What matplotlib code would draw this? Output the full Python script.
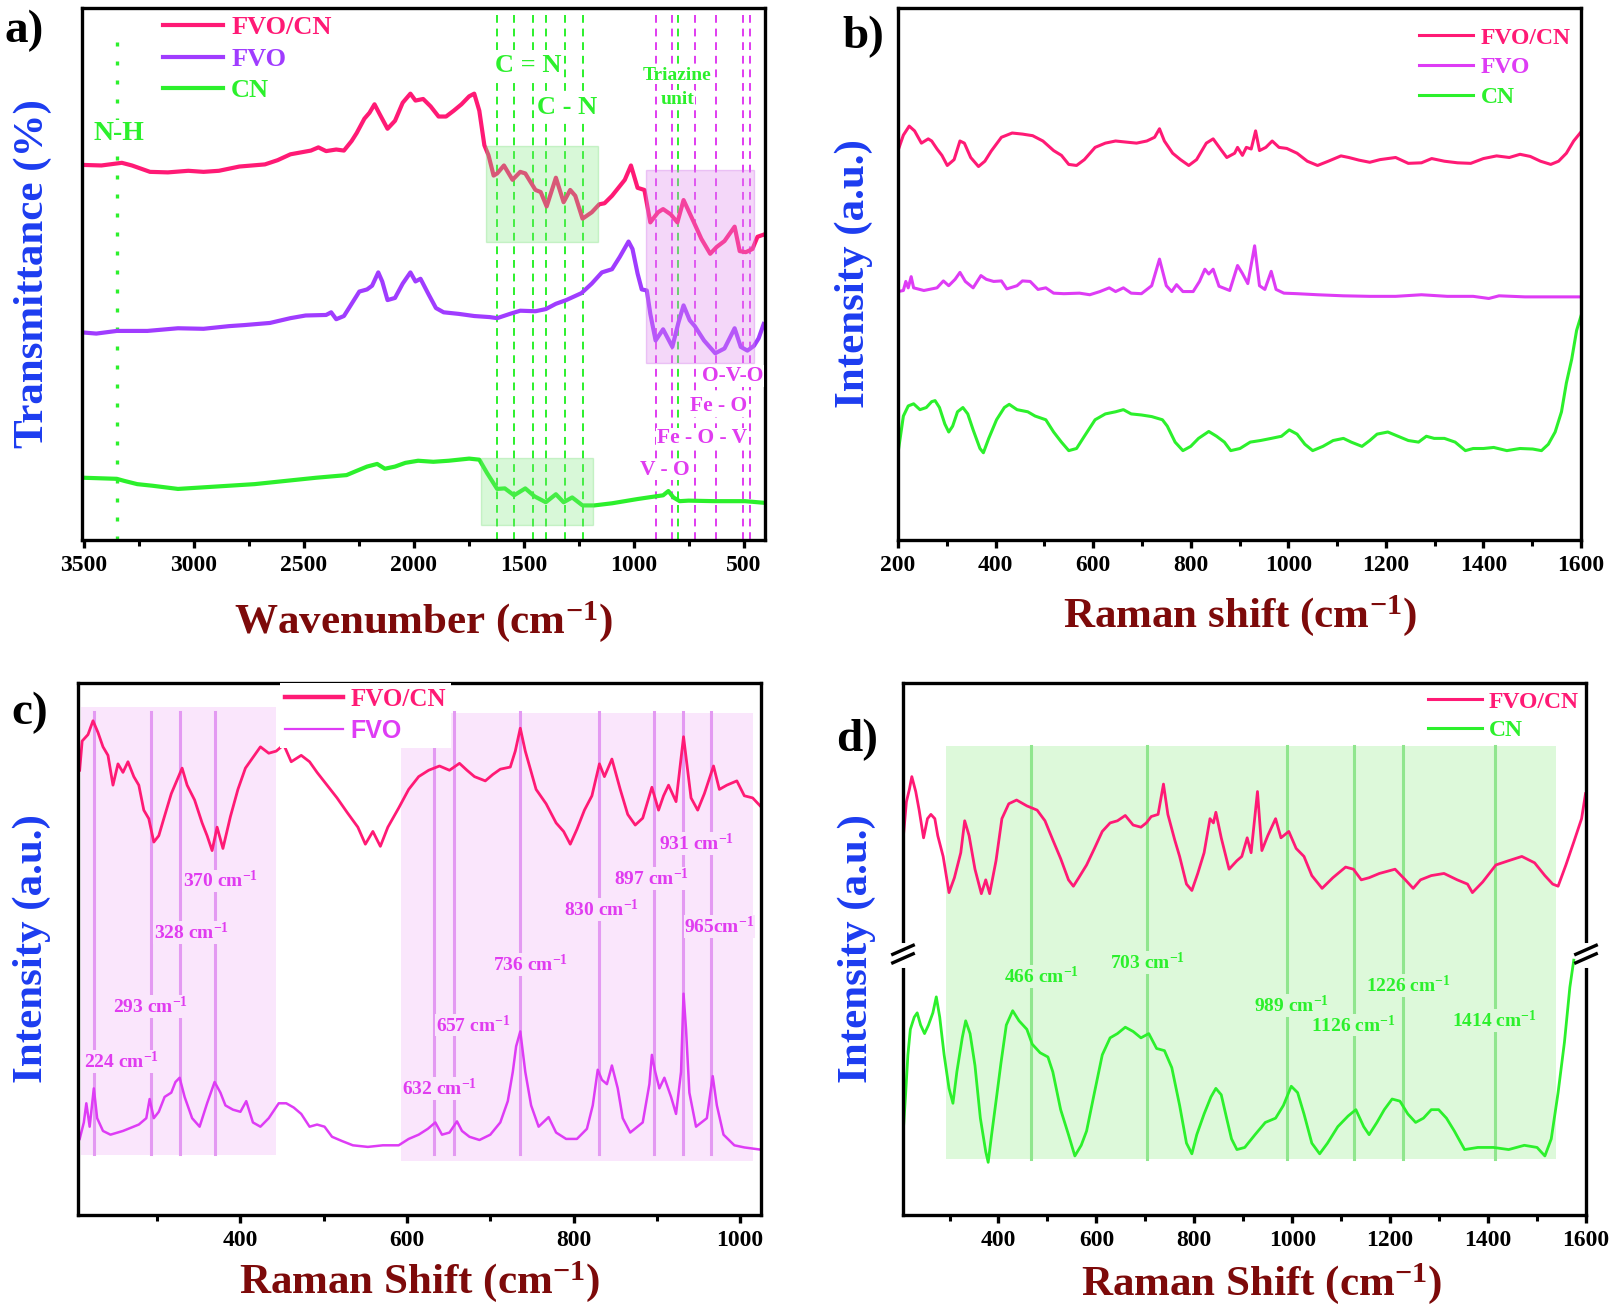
import matplotlib
matplotlib.use("Agg")
import matplotlib.pyplot as plt
from matplotlib.lines import Line2D
from matplotlib.patches import Rectangle
from matplotlib.ticker import MultipleLocator

plt.rcParams["font.family"] = ["Liberation Serif", "DejaVu Serif"]
plt.rcParams["font.weight"] = "bold"
plt.rcParams["mathtext.fontset"] = "custom"
plt.rcParams["mathtext.rm"] = "Liberation Serif:bold"
plt.rcParams["mathtext.it"] = "Liberation Serif:bold"
plt.rcParams["mathtext.bf"] = "Liberation Serif:bold"
plt.rcParams["mathtext.default"] = "rm"
plt.rcParams["axes.linewidth"] = 2.4

# ======= colours ==================================================
C_FVOCN = "#ff1a75"
C_FVO_A = "#a03cff"
C_FVO = "#de3cf5"
C_CN = "#2cf02c"
C_XLAB = "#7d0a0a"
C_YLAB = "#1c3cf0"
C_ANNO = "#e03cf0"

# ======= a) FTIR ==================================================
ftir_fvocn_x = [3500, 3419, 3326, 3280, 3198, 3117, 3024, 2955, 2885, 2792, 2676, 2618, 2560, 2467,
                2433, 2398, 2352, 2317, 2282, 2259, 2224, 2201, 2178, 2154, 2119, 2085, 2050, 2015,
                1992, 1957, 1923, 1887, 1853, 1818, 1783, 1748, 1725, 1702, 1679, 1660, 1637, 1621,
                1590, 1551, 1516, 1493, 1447, 1423, 1396, 1354, 1319, 1289, 1266, 1233, 1191, 1157,
                1133, 1099, 1041, 1013, 983, 952, 925, 890, 867, 832, 802, 774, 727, 693, 653, 623,
                588, 542, 519, 491, 461, 438, 410]
ftir_fvocn_y = [70.5, 70.4, 70.9, 70.4, 69.2, 69.1, 69.4, 69.2, 69.4, 70.2, 70.6, 71.4, 72.5, 73.2,
                73.8, 73.1, 73.4, 73.2, 75.0, 76.5, 79.2, 80.3, 81.9, 80.0, 77.3, 78.8, 82.2, 83.9,
                82.6, 82.9, 81.5, 79.6, 79.6, 80.7, 81.9, 83.4, 83.9, 80.7, 74.2, 72.3, 68.5, 68.9,
                70.4, 67.7, 69.2, 68.9, 65.8, 65.4, 62.7, 68.1, 63.5, 65.8, 64.7, 60.4, 61.6, 63.1,
                63.3, 64.7, 67.7, 70.4, 66.2, 65.8, 59.7, 61.6, 62.2, 61.2, 59.7, 63.9, 59.7, 56.6,
                53.8, 55.1, 56.2, 58.9, 54.3, 54.1, 54.7, 57.0, 57.4]

ftir_fvo_x = [3500, 3442, 3349, 3210, 3071, 2955, 2839, 2769, 2653, 2560, 2491, 2398, 2375, 2352,
              2317, 2282, 2247, 2212, 2189, 2161, 2143, 2119, 2085, 2050, 2015, 1992, 1969, 1934,
              1899, 1864, 1795, 1725, 1655, 1621, 1563, 1516, 1447, 1400, 1354, 1307, 1238, 1191,
              1145, 1099, 1064, 1024, 1006, 983, 964, 941, 925, 901, 867, 825, 797, 774, 746, 723,
              681, 630, 588, 542, 514, 484, 454, 433, 410]
ftir_fvo_y = [39.0, 38.8, 39.3, 39.3, 39.8, 39.7, 40.2, 40.4, 40.8, 41.7, 42.2, 42.3, 42.8, 41.5,
              42.1, 44.4, 46.7, 47.1, 47.8, 50.3, 48.6, 45.1, 45.5, 48.2, 50.3, 48.6, 49.1, 46.3,
              43.6, 42.8, 42.5, 42.1, 41.9, 41.7, 42.5, 43.1, 43.0, 43.4, 44.4, 45.1, 46.4, 48.2,
              50.3, 50.9, 53.2, 56.1, 54.7, 50.1, 47.1, 46.9, 42.5, 37.5, 39.6, 36.3, 40.9, 44.1,
              41.3, 40.2, 37.5, 35.1, 36.0, 39.8, 36.3, 35.6, 36.5, 37.9, 40.6]

ftir_cn_x = [3500, 3349, 3314, 3256, 3187, 3071, 2955, 2723, 2584, 2444, 2305, 2259, 2212, 2166,
             2131, 2085, 2038, 1980, 1911, 1841, 1748, 1702, 1667, 1621, 1586, 1544, 1493, 1451,
             1400, 1354, 1319, 1280, 1233, 1180, 1099, 983, 901, 867, 843, 820, 792, 751, 635, 495,
             410]
ftir_cn_y = [11.7, 11.5, 11.1, 10.5, 10.2, 9.6, 9.9, 10.5, 11.1, 11.7, 12.2, 13.0, 13.8, 14.3,
             13.4, 13.8, 14.5, 14.9, 14.7, 14.9, 15.3, 15.1, 12.6, 9.6, 9.7, 8.4, 9.7, 8.2,
             7.1, 8.6, 7.1, 8.0, 6.5, 6.5, 6.9, 7.7, 8.2, 8.4, 9.2, 8.0, 7.3, 7.4, 7.3, 7.3, 7.0]

ftir_nh_line = 3349
ftir_cn_lines = [1621, 1545, 1458, 1397, 1314, 1233]
ftir_triazine_line = 797
ftir_metal_lines = [901, 826, 722, 627, 505, 471]

# ======= b) Raman full range =====================================
rb_fvocn_x = [200, 211, 223, 234, 248, 262, 269, 280, 290, 301, 315, 327, 336, 349, 365, 378, 391,
              412, 434, 455, 476, 497, 519, 535, 550, 566, 582, 604, 625, 646, 667, 689, 710, 726,
              736, 746, 763, 779, 796, 812, 832, 846, 861, 874, 890, 896, 906, 914, 924, 933, 941,
              954, 967, 981, 997, 1018, 1039, 1060, 1082, 1108, 1124, 1145, 1167, 1188, 1220, 1246,
              1273, 1294, 1320, 1347, 1374, 1400, 1427, 1453, 1475, 1496, 1517, 1538, 1554, 1570,
              1585, 1600]
rb_fvocn_y = [73.2, 76.1, 77.8, 76.9, 74.6, 75.4, 75.0, 73.5, 72.3, 70.4, 71.5, 75.0, 74.6, 71.9,
              70.2, 71.2, 73.1, 75.7, 76.5, 76.3, 76.0, 75.0, 73.2, 72.3, 70.6, 70.4, 71.5, 73.8,
              74.6, 75.0, 74.8, 74.6, 75.0, 75.7, 77.3, 75.0, 72.7, 71.5, 70.4, 71.5, 74.6, 75.4,
              73.5, 71.9, 72.7, 73.8, 72.3, 73.8, 73.5, 76.9, 73.2, 73.8, 75.0, 73.8, 73.6, 72.7,
              71.2, 70.4, 71.2, 72.2, 71.9, 71.4, 71.0, 71.5, 71.9, 70.8, 70.9, 71.7, 71.2, 70.9,
              70.8, 71.7, 72.2, 71.9, 72.5, 72.1, 71.2, 70.6, 71.2, 72.7, 75.0, 76.7]

rb_fvo_x = [200, 211, 216, 221, 227, 232, 253, 280, 293, 304, 317, 327, 338, 354, 370, 381, 396,
            412, 423, 444, 455, 471, 487, 503, 519, 540, 572, 593, 614, 633, 646, 662, 678, 699,
            720, 736, 750, 761, 771, 784, 805, 818, 829, 837, 846, 858, 880, 896, 906, 917, 931,
            941, 952, 965, 975, 991, 1018, 1060, 1113, 1167, 1220, 1273, 1326, 1379, 1411, 1432,
            1485, 1538, 1600]
rb_fvo_y = [46.7, 46.9, 48.6, 47.4, 49.5, 47.4, 46.9, 47.4, 48.7, 47.8, 49.0, 50.3, 48.6, 47.4,
            49.7, 49.0, 48.6, 48.7, 47.2, 47.8, 48.7, 48.6, 47.1, 47.4, 46.4, 46.3, 46.4, 46.1,
            46.7, 47.4, 46.7, 47.4, 46.4, 46.3, 47.8, 52.8, 47.8, 46.7, 48.0, 46.7, 46.7, 48.6,
            50.9, 50.0, 50.9, 47.7, 46.9, 51.6, 50.1, 48.2, 55.3, 47.8, 47.1, 50.5, 47.1, 46.4,
            46.3, 46.1, 45.9, 45.8, 45.8, 46.1, 45.8, 45.8, 45.4, 45.9, 45.7, 45.7, 45.7]

rb_cn_x = [200, 205, 211, 221, 232, 245, 258, 269, 276, 285, 296, 304, 312, 322, 333, 343, 354,
           368, 375, 386, 402, 418, 428, 444, 466, 481, 503, 519, 535, 550, 566, 582, 604, 625,
           646, 662, 678, 699, 720, 742, 752, 768, 784, 800, 816, 837, 853, 869, 882, 901, 922,
           943, 965, 986, 1002, 1018, 1034, 1050, 1071, 1092, 1113, 1129, 1151, 1167, 1182, 1204,
           1225, 1246, 1267, 1283, 1299, 1320, 1342, 1363, 1379, 1400, 1421, 1448, 1475, 1501,
           1519, 1533, 1547, 1560, 1570, 1581, 1591, 1600]
rb_cn_y = [16.4, 19.5, 23.3, 25.2, 25.6, 24.5, 24.9, 26.0, 26.2, 24.9, 21.8, 20.3, 21.4, 24.1,
           24.9, 23.7, 20.7, 17.2, 16.4, 19.1, 22.6, 24.9, 25.5, 24.5, 24.1, 23.3, 22.6, 20.3,
           18.4, 16.8, 17.2, 19.5, 22.6, 23.7, 24.1, 24.5, 23.7, 23.5, 23.2, 22.6, 21.4, 18.4,
           16.8, 17.6, 19.1, 20.4, 19.5, 18.4, 16.8, 17.2, 18.4, 18.7, 19.1, 19.5, 20.7, 19.9,
           18.0, 16.8, 17.6, 18.7, 19.1, 18.4, 17.6, 18.7, 19.9, 20.3, 19.5, 18.7, 18.4, 19.5,
           19.1, 19.1, 18.4, 16.8, 17.2, 17.2, 17.4, 16.8, 17.2, 17.1, 16.8, 18.0, 20.3, 24.1,
           29.5, 34.0, 39.4, 42.1]

# ======= c) Raman, FVO bands ======================================
rc_fvocn_x = [207, 210, 217, 223, 229, 235, 241, 247, 253, 259, 265, 272, 278, 284, 290, 296, 302,
              308, 317, 330, 336, 345, 354, 360, 366, 372, 379, 388, 397, 406, 415, 424, 434, 443,
              452, 461, 473, 483, 492, 504, 516, 528, 541, 550, 559, 568, 577, 590, 602, 614, 626,
              639, 651, 663, 672, 681, 694, 703, 712, 724, 730, 736, 742, 755, 767, 779, 788, 796,
              804, 813, 822, 831, 837, 846, 856, 865, 874, 883, 894, 902, 908, 914, 923, 932, 941,
              949, 957, 968, 975, 984, 996, 1005, 1015, 1024]
rc_fvocn_y = [83.6, 89.1, 90.3, 92.9, 90.7, 88.0, 86.4, 80.8, 84.8, 83.2, 85.2, 82.4, 80.8, 76.1,
              74.5, 70.1, 71.3, 74.5, 79.2, 84.0, 80.8, 78.0, 73.7, 71.3, 68.5, 72.9, 68.9, 74.9,
              80.0, 84.0, 86.0, 88.0, 86.8, 87.2, 88.4, 85.2, 86.4, 85.2, 83.2, 80.8, 78.4, 75.7,
              72.9, 69.7, 72.1, 69.3, 72.9, 76.5, 80.0, 82.4, 83.6, 84.4, 83.6, 84.9, 83.6, 82.4,
              81.6, 82.8, 83.8, 84.2, 87.2, 91.5, 87.2, 80.0, 77.3, 73.7, 72.1, 69.7, 72.5, 76.1,
              78.8, 84.8, 82.4, 85.7, 80.0, 75.3, 73.3, 74.6, 80.4, 76.1, 78.8, 80.8, 77.7, 89.9,
              78.4, 76.1, 79.2, 84.4, 80.0, 80.8, 81.6, 78.8, 78.4, 76.9]

rc_fvo_x = [207, 212, 215, 219, 224, 228, 235, 244, 259, 278, 287, 291, 296, 302, 309, 317, 322,
            327, 333, 342, 351, 360, 369, 376, 382, 391, 400, 407, 415, 424, 434, 446, 455, 464,
            473, 483, 492, 501, 510, 522, 535, 553, 571, 590, 602, 614, 625, 634, 642, 651, 660,
            666, 675, 687, 700, 712, 721, 727, 731, 736, 742, 749, 758, 770, 779, 791, 804, 816,
            823, 829, 834, 840, 846, 853, 859, 868, 883, 891, 894, 898, 903, 909, 917, 923, 929,
            932, 935, 939, 947, 960, 967, 972, 980, 993, 1005, 1024]
rc_fvo_y = [14.3, 17.4, 21.0, 16.6, 23.8, 18.2, 15.8, 15.1, 15.8, 17.0, 18.2, 21.8, 18.2, 19.4,
            22.2, 23.0, 25.0, 25.8, 22.2, 18.2, 16.6, 21.0, 25.0, 23.0, 20.6, 19.8, 19.4, 21.4,
            17.4, 16.6, 18.2, 21.0, 21.0, 20.2, 19.0, 16.6, 17.0, 16.6, 14.7, 13.9, 13.1, 12.8,
            13.1, 13.1, 14.3, 15.1, 16.2, 17.4, 15.1, 15.5, 17.6, 15.8, 14.7, 14.1, 15.1, 17.4,
            21.4, 26.9, 31.7, 34.5, 26.9, 20.6, 16.6, 18.4, 15.5, 14.3, 14.3, 16.2, 20.6, 27.3,
            25.4, 24.6, 28.1, 23.8, 18.2, 15.5, 17.4, 24.6, 30.1, 26.9, 23.8, 25.8, 22.2, 19.0,
            26.9, 41.6, 34.9, 23.0, 16.6, 18.2, 26.1, 20.6, 15.1, 13.1, 12.7, 12.3]

fvo_bands = [224, 293, 328, 370, 632, 657, 736, 830, 897, 931, 965]
fvo_band_labels = ["224 cm$^{-1}$", "293 cm$^{-1}$", "328 cm$^{-1}$", "370 cm$^{-1}$",
                   "632 cm$^{-1}$", "657 cm$^{-1}$", "736 cm$^{-1}$", "830 cm$^{-1}$",
                   "897 cm$^{-1}$", "931 cm$^{-1}$", "965cm$^{-1}$"]

# ======= d) Raman, CN bands =======================================
rd_fvocn_x = [204, 212, 218, 223, 231, 238, 247, 255, 262, 270, 276, 287, 299, 310, 323, 331, 340,
              352, 365, 374, 382, 395, 407, 421, 437, 458, 479, 495, 511, 527, 543, 553, 564, 580,
              596, 612, 628, 643, 659, 675, 691, 702, 712, 726, 737, 746, 760, 770, 784, 795, 807,
              820, 832, 839, 844, 855, 871, 887, 897, 908, 916, 929, 938, 950, 966, 977, 993, 1008,
              1024, 1040, 1061, 1083, 1109, 1125, 1141, 1157, 1178, 1210, 1231, 1247, 1262, 1284,
              1310, 1337, 1358, 1368, 1389, 1416, 1442, 1469, 1495, 1516, 1532, 1543, 1559, 1575,
              1591, 1599]
rd_fvocn_y = [69.3, 77.7, 80.0, 82.4, 79.6, 76.1, 70.9, 74.5, 75.3, 74.5, 71.3, 67.4, 60.6, 63.4,
              68.1, 74.1, 71.3, 65.0, 60.4, 63.0, 60.4, 66.6, 74.5, 77.3, 78.0, 76.9, 76.1, 74.1,
              70.5, 67.0, 63.0, 61.8, 63.4, 65.8, 68.9, 72.1, 73.7, 74.1, 75.1, 73.3, 72.9, 73.7,
              74.9, 75.3, 81.0, 75.3, 70.5, 67.4, 62.2, 61.0, 64.2, 68.1, 74.5, 73.7, 75.7, 70.9,
              65.0, 66.6, 67.4, 70.9, 68.1, 79.6, 68.5, 71.3, 74.5, 70.9, 72.1, 68.9, 67.4, 63.8,
              61.4, 63.4, 65.4, 65.0, 63.0, 63.4, 64.2, 65.0, 63.0, 61.4, 63.0, 63.8, 64.2, 63.0,
              62.2, 60.6, 62.6, 65.8, 66.6, 67.4, 66.2, 63.8, 62.2, 61.8, 65.8, 70.1, 74.5, 79.2]

rd_cn_x = [204, 210, 215, 220, 228, 234, 241, 249, 257, 266, 273, 280, 289, 299, 307, 315, 326,
           333, 342, 352, 363, 374, 379, 386, 395, 405, 416, 429, 442, 458, 469, 485, 501, 511,
           527, 543, 556, 569, 580, 596, 612, 628, 643, 659, 675, 691, 707, 723, 739, 754, 770,
           784, 795, 805, 820, 834, 844, 855, 866, 876, 887, 903, 924, 945, 966, 982, 998, 1011,
           1024, 1040, 1056, 1072, 1093, 1114, 1130, 1146, 1157, 1173, 1188, 1204, 1220, 1236,
           1252, 1268, 1284, 1299, 1315, 1331, 1352, 1379, 1411, 1442, 1474, 1500, 1516, 1529,
           1543, 1556, 1567, 1575]
rd_cn_y = [13.5, 22.2, 30.1, 34.9, 37.2, 38.0, 35.7, 34.1, 35.7, 38.0, 41.0, 37.2, 30.1, 23.8,
           21.0, 26.9, 33.3, 36.5, 34.1, 28.1, 18.2, 11.9, 9.9, 15.1, 21.4, 28.5, 35.7, 38.4,
           36.5, 34.9, 32.1, 30.5, 29.7, 26.9, 19.8, 15.1, 11.1, 13.1, 15.8, 23.0, 30.1, 33.3,
           34.1, 35.3, 34.5, 33.3, 34.1, 31.3, 30.9, 27.7, 20.6, 13.5, 11.5, 15.1, 19.0, 22.2,
           23.8, 22.6, 18.2, 14.3, 12.3, 12.7, 15.1, 17.4, 18.2, 20.6, 24.2, 23.0, 19.0, 13.5,
           11.5, 13.5, 16.6, 18.6, 19.8, 16.6, 15.1, 17.4, 19.8, 21.8, 21.4, 19.0, 17.4, 18.2,
           19.8, 19.8, 18.2, 15.8, 12.3, 12.7, 12.7, 12.3, 13.1, 12.7, 11.1, 14.3, 23.0, 32.5,
           42.8, 47.9]

cn_bands = [466, 703, 989, 1126, 1226, 1414]
cn_band_labels = ["466 cm$^{-1}$", "703 cm$^{-1}$", "989 cm$^{-1}$", "1126 cm$^{-1}$",
                  "1226 cm$^{-1}$", "1414 cm$^{-1}$"]

# ======= layout ===================================================
FIG_W, FIG_H = 1611, 1311
AX_W, AX_H = 683, 532


def style_axes(ax, xlim, major, minor, xlabel, ylabel, xlab_dy, ylab_dx):
    ax.set_xlim(*xlim)
    ax.set_ylim(0, 100)
    ax.set_yticks([])
    ax.xaxis.set_major_locator(MultipleLocator(major))
    ax.xaxis.set_minor_locator(MultipleLocator(minor))
    ax.tick_params(axis="x", which="major", direction="out", length=6, width=2.4,
                   labelsize=17, pad=5)
    ax.tick_params(axis="x", which="minor", direction="out", length=4, width=2.2)
    ax.set_xlabel(xlabel, fontsize=31, color=C_XLAB, fontweight="bold")
    ax.set_ylabel(ylabel, fontsize=31, color=C_YLAB, fontweight="bold")
    ax.xaxis.set_label_coords(0.5, -xlab_dy / AX_H)
    ax.xaxis.label.set_va("center")
    ax.yaxis.set_label_coords(-ylab_dx / AX_W, 0.5)
    ax.yaxis.label.set_va("center")


def add_legend(ax, labels, colors, widths, anchor, fontsize, frame=False, spacing=0.3):
    handles = [Line2D([], [], color=c, lw=w) for c, w in zip(colors, widths)]
    leg = ax.legend(handles, labels, loc="upper left", bbox_to_anchor=anchor,
                    frameon=frame, fontsize=fontsize, handlelength=2.3, handletextpad=0.3,
                    labelspacing=spacing, borderpad=0.2 if frame else 0, borderaxespad=0,
                    fancybox=False)
    if frame:
        leg.get_frame().set_facecolor("white")
        leg.get_frame().set_edgecolor("none")
        leg.get_frame().set_alpha(1.0)
    for text, c in zip(leg.get_texts(), colors):
        text.set_color(c)
    return leg


def main() -> None:
    fig = plt.figure(figsize=(FIG_W / 100, FIG_H / 100), dpi=100)
    ax_a = fig.add_axes([82 / FIG_W, 1 - 540 / FIG_H, AX_W / FIG_W, AX_H / FIG_H])
    ax_b = fig.add_axes([898 / FIG_W, 1 - 540 / FIG_H, AX_W / FIG_W, AX_H / FIG_H])
    ax_c = fig.add_axes([78 / FIG_W, 1 - 1215 / FIG_H, AX_W / FIG_W, AX_H / FIG_H])
    ax_d = fig.add_axes([903 / FIG_W, 1 - 1215 / FIG_H, AX_W / FIG_W, AX_H / FIG_H])

    # ---- a) FTIR
    ax = ax_a
    ax.plot(ftir_fvocn_x, ftir_fvocn_y, color=C_FVOCN, lw=3, zorder=2)
    ax.plot(ftir_fvo_x, ftir_fvo_y, color=C_FVO_A, lw=3, zorder=2)
    ax.plot(ftir_cn_x, ftir_cn_y, color=C_CN, lw=3, zorder=2)
    ax.axvline(ftir_nh_line, ymin=0, ymax=0.96, color=C_CN, lw=2.4, ls=(0, (1.2, 4.5)), zorder=1)
    for x in ftir_cn_lines + [ftir_triazine_line]:
        ax.axvline(x, color=C_CN, lw=1.4, ls=(0, (4, 3)), zorder=1)
    for x in ftir_metal_lines:
        ax.axvline(x, color=C_ANNO, lw=1.4, ls=(0, (4, 3)), zorder=1)
    ax.add_patch(Rectangle((1164, 56.1), 509, 17.9, fc="#7ee87e", ec="#6cdc6c",
                           alpha=0.3, lw=1, zorder=3))
    ax.add_patch(Rectangle((1187, 2.8), 508, 12.7, fc="#7ee87e", ec="#6cdc6c",
                           alpha=0.3, lw=1, zorder=3))
    ax.add_patch(Rectangle((452, 33.3), 492, 36.3, fc="#e08ef0", ec="#d070e8",
                           alpha=0.35, lw=1, zorder=3))
    wbox = dict(fc="white", ec="none", pad=0.5)
    ax.text(3337, 76.5, "N-H", color=C_CN, fontsize=20, ha="center", va="center", bbox=wbox)
    ax.text(1481, 89.1, "C = N", color=C_CN, fontsize=19, ha="center", va="center", bbox=wbox)
    ax.text(1303, 81.3, "C - N", color=C_CN, fontsize=19, ha="center", va="center", bbox=wbox)
    ax.text(803, 87.4, "Triazine", color=C_CN, fontsize=14, ha="center", va="center", bbox=wbox)
    ax.text(803, 82.8, "unit", color=C_CN, fontsize=14, ha="center", va="center", bbox=wbox)
    ax.text(549, 30.8, "O-V-O", color=C_ANNO, fontsize=15.5, ha="center", va="center", bbox=wbox)
    ax.text(616, 25.2, "Fe - O", color=C_ANNO, fontsize=15.5, ha="center", va="center", bbox=wbox)
    ax.text(690, 19.1, "Fe - O - V", color=C_ANNO, fontsize=15.5, ha="center", va="center",
            bbox=wbox)
    ax.text(860, 13.2, "V - O", color=C_ANNO, fontsize=15.5, ha="center", va="center", bbox=wbox)
    style_axes(ax, (3507, 404), 500, 250, "Wavenumber (cm$^{-1}$)", "Transmittance (%)", 82, 49)
    add_legend(ax, ["FVO/CN", "FVO", "CN"], [C_FVOCN, C_FVO_A, C_CN], [3, 3, 3],
               (0.118, 0.985), 19, spacing=0.3)

    # ---- b) Raman
    ax = ax_b
    ax.plot(rb_fvocn_x, rb_fvocn_y, color=C_FVOCN, lw=2.2)
    ax.plot(rb_fvo_x, rb_fvo_y, color=C_FVO, lw=2.2)
    ax.plot(rb_cn_x, rb_cn_y, color=C_CN, lw=2.2)
    style_axes(ax, (200, 1600), 200, 100, "Raman shift (cm$^{-1}$)", "Intensity (a.u.)", 76, 44)
    add_legend(ax, ["FVO/CN", "FVO", "CN"], [C_FVOCN, C_FVO, C_CN], [2.2, 2.2, 2.2],
               (0.763, 0.964), 17, spacing=0.35)

    # ---- c) Raman FVO bands
    ax = ax_c
    ax.add_patch(Rectangle((209, 11.3), 234, 84.2, fc="#fae6fc", ec="none", zorder=0))
    ax.add_patch(Rectangle((593, 10.1), 422, 84.2, fc="#fae6fc", ec="none", zorder=0))
    for x in fvo_bands:
        ax.plot([x, x], [11.5, 94.5], color="#e39af2", lw=2.2, zorder=1)
    pbox = dict(fc="#fae6fc", ec="none", pad=0.5)
    lab_xy_c = [(212, 28.9), (247, 39.2), (296, 53.1), (331, 62.8), (594, 23.8), (635, 35.7),
                (703, 47.1), (788, 57.4), (848, 63.2), (903, 69.9), (933, 54.3)]
    for (tx, ty), lab in zip(lab_xy_c, fvo_band_labels):
        ax.text(tx, ty, lab, color=C_ANNO, fontsize=14, ha="left", va="center", bbox=pbox,
                zorder=1.5)
    ax.plot(rc_fvocn_x, rc_fvocn_y, color=C_FVOCN, lw=2, zorder=2)
    ax.plot(rc_fvo_x, rc_fvo_y, color=C_FVO, lw=1.8, zorder=2)
    style_axes(ax, (205, 1025), 200, 100, "Raman Shift (cm$^{-1}$)", "Intensity (a.u.)", 67, 46)
    leg = add_legend(ax, ["FVO/CN", "FVO"], [C_FVOCN, C_FVO], [3.2, 1.6],
                     (0.296, 1.0), 18, frame=True, spacing=0.3)
    leg.get_texts()[1].set_fontfamily("Liberation Sans")

    # ---- d) Raman CN bands
    ax = ax_d
    ax.add_patch(Rectangle((292, 10.5), 1246, 77.7, fc="#ddf9da", ec="none", zorder=0))
    for x in cn_bands:
        ax.plot([x, x], [10.5, 88.2], color="#90e68e", lw=2.2, zorder=1)
    gbox = dict(fc="#ddf9da", ec="none", pad=0.5)
    lab_xy_d = [(411, 44.8), (628, 47.5), (921, 39.4), (1038, 35.7), (1151, 43.2), (1326, 36.6)]
    for (tx, ty), lab in zip(lab_xy_d, cn_band_labels):
        ax.text(tx, ty, lab, color=C_CN, fontsize=14, ha="left", va="center", bbox=gbox,
                zorder=1.5)
    ax.plot(rd_fvocn_x, rd_fvocn_y, color=C_FVOCN, lw=2, zorder=2)
    ax.plot(rd_cn_x, rd_cn_y, color=C_CN, lw=2, zorder=2)
    style_axes(ax, (205, 1600), 200, 100, "Raman Shift (cm$^{-1}$)", "Intensity (a.u.)", 69, 46)
    ax.xaxis.set_label_coords(0.525, -69 / AX_H)
    add_legend(ax, ["FVO/CN", "CN"], [C_FVOCN, C_CN], [2.2, 2.2], (0.768, 0.985), 17,
               spacing=0.3)
    # axis break marks
    for xb in (0.0, 1.0):
        ax.plot([xb, xb], [0.472, 0.506], transform=ax.transAxes, color="white", lw=5,
                clip_on=False, zorder=10)
        for yb in (0.474, 0.490):
            ax.plot([xb - 0.015, xb + 0.015], [yb, yb + 0.017], transform=ax.transAxes,
                    color="black", lw=2.4, clip_on=False, zorder=11)

    # panel letters
    for (px, py), letter in zip([(24, 31), (863, 37), (30, 713), (857, 740)],
                                ["a)", "b)", "c)", "d)"]):
        fig.text(px / FIG_W, 1 - py / FIG_H, letter, fontsize=34, ha="center", va="center")

    fig.savefig("out.png", dpi=100)
    plt.close(fig)


if __name__ == "__main__":
    main()
